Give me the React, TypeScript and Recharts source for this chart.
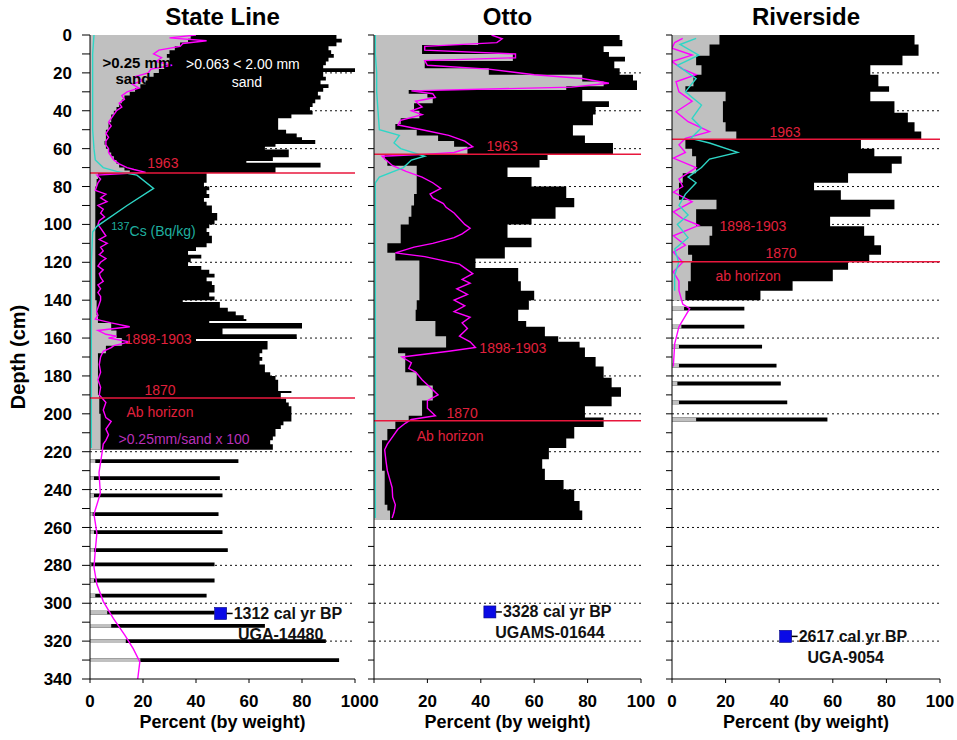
import React from 'react';
import {
  ComposedChart,
  Area,
  Line,
  Scatter,
  XAxis,
  YAxis,
  CartesianGrid,
  ReferenceLine,
  ReferenceDot,
} from 'recharts';

// [depth cm, percent]
type Pair = [number, number];
// [top cm, bottom cm, percent] for discrete samples
type Sample = [number, number, number];

const FONT = 'Arial, "Liberation Sans", Helvetica, sans-serif';

const depthTicks = [0, 10, 20, 30, 40, 50, 60, 70, 80, 90, 100, 110, 120, 130, 140, 150, 160, 170, 180, 190, 200, 210, 220, 230, 240, 250, 260, 270, 280, 290, 300, 310, 320, 330, 340];
const gridDepths = [20, 40, 60, 80, 100, 120, 140, 160, 180, 200, 220, 240, 260, 280, 300, 320];
const percentTicks = [0, 20, 40, 60, 80, 100];

// ---------- State Line ----------
const slFine: Pair[] = [
  [0, 93], [2, 95], [4, 93], [6, 90], [8, 91], [10, 92], [12, 90], [14, 89], [16, 88], [17.5, 100],
  [19.5, 88], [22, 89], [24, 87], [26, 90], [28, 88], [30, 86], [32, 87], [34, 85], [36, 84], [38, 83],
  [40, 84], [42, 76], [44, 71], [46, 71], [48, 71], [50, 74], [52, 78], [54, 80], [55.5, 85], [57.5, 70],
  [59, 66], [60.5, 75], [63, 75], [64.5, 69], [66.5, 59], [67.5, 87], [70, 70], [72.9, 44], [76, 44], [78, 43],
  [80, 45], [82, 44], [84, 45], [86, 43], [88, 44], [90, 46], [92, 46], [94, 48], [96, 48], [98, 47],
  [100, 45], [102, 44], [104, 45], [106, 46], [108, 46], [110, 44], [112, 40], [114, 37], [116, 42], [118, 38],
  [120, 37], [122, 42], [124, 45], [126, 47], [128, 44], [130, 46], [132, 47], [134, 47], [136, 45], [138, 47],
  [140, 35], [141, 49], [144, 52], [146, 55], [148, 58], [150, 59], [151, 45], [152, 80], [155, 50], [158, 78],
  [160.5, 40], [161.5, 67], [164, 67], [166, 65], [168, 64], [170, 65], [172, 64], [174, 66], [176, 66], [178, 68],
  [180, 70], [182, 71], [184, 71], [186, 71], [188, 76], [189, 72], [192, 74], [194, 75], [196, 76], [198, 76],
  [200, 76], [202, 76], [204, 73], [206, 72], [208, 70], [210, 70], [212, 69], [214, 68], [216, 69], [219, 69],
];
const slFineSamples: Sample[] = [
  [224, 226, 56], [233, 235, 49], [242, 244, 50], [252, 254, 48.5], [261.5, 263.5, 50], [271, 273, 52],
  [278.5, 280.5, 47], [287, 289, 47], [295, 297, 44], [304, 306, 47], [311, 313, 66], [319, 321, 89], [329, 331, 94],
];
const slCoarse: Pair[] = [
  [0, 38], [2, 37], [4, 34], [6, 32], [8, 30], [10, 29], [12, 30], [14, 30], [16, 28], [18, 26],
  [20, 24], [22, 22], [24, 21], [26, 19], [28, 17], [30, 15], [32, 13], [34, 12], [36, 11], [38, 10],
  [40, 9], [42, 8], [44, 8], [46, 7], [48, 7], [50, 6], [52, 6], [54, 6], [56, 5.5], [58, 6],
  [60, 7], [62, 8], [64, 9], [66, 10], [68, 11], [70, 13], [71.5, 15], [72.9, 3], [76, 2.5], [80, 2],
  [90, 2], [100, 2], [110, 2], [120, 2], [130, 2], [140, 2.5], [148, 3], [152, 8], [156, 10], [160, 12],
  [164, 6], [168, 3], [180, 3], [190, 3.5], [200, 4], [210, 4], [219, 4],
];
const slCoarseSamples: Sample[] = [
  [224, 226, 2], [233, 235, 1.5], [242, 244, 1.5], [252, 254, 1], [261.5, 263.5, 1.5], [271, 273, 1.5],
  [278.5, 280.5, 0.5], [287, 289, 1.5], [295, 297, 2], [304, 306, 6.5], [311, 313, 8], [319, 321, 13.5], [329, 331, 19],
];
const slCoarseX100: Pair[] = [
  [0, 40], [1.5, 30], [3, 44], [4.5, 35], [6, 34], [8, 26], [10, 24], [12, 27], [14, 25], [16, 31],
  [18, 23], [20, 22], [22, 17], [24, 20], [26, 16], [28, 18.5], [30, 14], [32, 12], [34, 13], [36, 11],
  [38, 12], [40, 10], [42, 9], [44, 8], [46, 7], [48, 8], [50, 7], [52, 6], [54, 7], [56, 6],
  [58, 6], [60, 7], [62, 7], [64, 8], [66, 9], [68, 11], [70, 14], [71, 16.6], [72.5, 21], [74, 2.6],
  [76, 4], [78, 3], [80, 2.5], [82, 2], [84, 6], [86, 4], [88, 6.4], [90, 3], [92, 5], [94, 4],
  [96, 5.5], [98, 3.5], [100, 3], [102, 4], [104, 5], [106, 6], [108, 3.5], [110, 6.5], [112, 4], [114, 5],
  [116, 3.5], [118, 6], [120, 4], [122, 3], [124, 5], [126, 3.5], [128, 4], [130, 5], [132, 3], [134, 4],
  [136, 3], [138, 4], [140, 4], [142, 3.5], [144, 3], [146, 2.5], [148, 3], [150, 2], [152, 8], [154, 15],
  [156, 3], [158, 6], [159, 10], [160, 7], [162, 15], [164, 9], [165, 8], [167, 5], [170, 4], [174, 3.5],
  [178, 4], [182, 3], [186, 4], [190, 3.5], [194, 6], [198, 5], [202, 6], [204, 8], [208, 6], [211, 7],
  [214, 6], [216, 5], [221, 4.5], [231, 3.4], [242, 3.9], [253, 1.5], [263, 2.6], [272, 2], [281, 1.5], [290, 2.6],
  [299, 5], [308, 8.8], [317, 13.2], [324, 16.3], [331, 18.8], [340, 18],
];
const slCs137: Pair[] = [
  [0, 1.5], [10, 1], [20, 1], [30, 1], [40, 1], [50, 1], [60, 1.5], [66, 2], [70, 5], [72, 10],
  [74, 17.7], [81, 24], [90, 14], [101, 2.6], [104, 1], [120, 0.5], [140, 0.5], [160, 0.5], [180, 0.5], [200, 0.5], [218, 0.5],
];
const slHorizons = [72.9, 191.7];
const slDates = [{ x: 49.3, depth: 305.4, age: '1312 cal yr BP', lab: 'UGA-14480' }];

// ---------- Otto ----------
const ottoFine: Pair[] = [
  [0, 92], [2.6, 93], [6, 86], [9, 88], [11.5, 94], [14, 90], [17.6, 92], [21, 97], [24, 98.5], [29, 78],
  [35, 88], [38, 83], [42, 82], [47.6, 74.5], [53, 79], [57, 89.5], [63, 65], [66, 62], [70, 50], [75, 59],
  [80, 72], [86, 75], [91, 68], [97, 59], [100, 50], [107, 59], [112, 49], [118, 38], [123, 54], [130, 55],
  [135, 60], [140, 58], [145, 54], [151, 57], [154, 64], [159, 69], [162, 77], [165, 79], [170, 83], [175, 86],
  [181, 89], [186, 92.5], [191, 89], [196, 79], [202, 86], [207, 75], [213, 72], [218, 65.5], [224, 63], [229, 64],
  [235, 71], [240, 75], [246, 77], [251, 78], [256, 78],
];
const ottoCoarse: Pair[] = [
  [0, 39], [5.3, 18], [10, 52], [13.7, 19], [17.6, 43], [21, 78], [24.6, 86], [27, 72], [29, 13], [31, 20],
  [33, 22], [36, 15], [40, 17], [44, 10], [47, 8], [50, 16], [53, 24], [56, 30], [59, 35], [63, 4],
  [66, 5], [69, 16], [76, 16], [84, 15], [90, 14], [96, 13], [100, 10], [105, 10], [110, 5], [115, 8],
  [119, 17], [130, 17], [140, 16], [145, 15.6], [151, 23], [159, 27], [165, 9], [168, 11.7], [178, 16], [185, 22],
  [193, 18], [201, 13], [204, 8], [208, 5], [214, 3], [230, 4], [248, 5], [251, 6], [256, 6],
];
const ottoCoarseX100: Pair[] = [
  [0, 44], [2, 48], [4, 46], [6, 19], [8, 19], [10, 53], [12, 53], [13.5, 19], [16, 20], [18, 43],
  [21, 60], [23, 78], [25.5, 88], [27.5, 74], [29.5, 14], [31, 22], [33, 23], [35, 15.6], [38, 18], [40, 14],
  [42, 18], [45, 10], [47.5, 9], [50, 18], [53, 28], [56, 34], [59, 37], [62, 30], [63, 19], [64, 3],
  [66, 4.5], [69, 7], [72, 12], [75, 18], [78, 22], [81, 25], [84, 21], [86, 22], [89, 26], [91, 27],
  [94, 30], [97, 32], [100, 34], [102, 36], [105, 33], [107, 30], [110, 22], [112, 15], [115, 8], [117, 19],
  [121, 32], [124, 35], [126, 37], [129, 33], [131, 36], [134, 31], [137, 35], [140, 30], [143, 34], [146, 30],
  [149, 36], [152, 33], [155, 35], [159, 32], [162, 36], [165, 38], [167, 28], [170, 10.5], [173, 14], [176, 13],
  [178, 15.6], [182, 18], [186, 21], [190, 24], [193, 20], [197, 20], [201, 23], [203, 14], [205, 11.7], [208, 9],
  [212, 7], [216, 5], [219, 4], [225, 4.5], [230, 5], [235, 6], [239, 6.8], [244, 7], [248, 8], [252, 7.5], [255, 6.8],
];
const ottoCs137: Pair[] = [
  [0, 0.5], [10, 0.5], [20, 1], [30, 1], [40, 1.5], [50, 2], [53, 9.5], [57, 7.5], [60, 10], [64, 19],
  [66, 14], [70, 11], [75, 2], [78, 0.5], [100, 0.5], [130, 0.5], [160, 0.5], [190, 0.5], [220, 0.5], [255, 0.5],
];
const ottoHorizons = [63, 203.6];
const ottoDates = [{ x: 43.4, depth: 304.6, age: '3328 cal yr BP', lab: 'UGAMS-01644' }];

// ---------- Riverside ----------
const rivFine: Pair[] = [
  [0, 90.5], [5, 92], [11, 86], [16, 74], [21, 77], [27, 81], [30, 74], [35, 83], [41, 88], [46, 90.5],
  [51, 93], [55.1, 70.5], [60, 75.5], [64, 85.7], [68, 82], [73, 65.7], [78, 53], [82, 63], [87, 83], [92, 74],
  [96, 59], [101, 71.7], [106, 75.5], [111, 78], [116, 73.6], [119.7, 65.7], [124, 60], [130, 45], [135, 33], [140, 33],
];
const rivFineSamples: Sample[] = [
  [143.5, 145.5, 27], [153, 155, 27], [163.5, 165.5, 33.6], [173.5, 175.5, 39], [183, 185, 40.6], [193, 195, 43], [202, 204, 58],
];
const rivCoarse: Pair[] = [
  [0, 17.7], [5, 14], [11, 9], [16, 11], [21, 8], [27, 5], [30, 20], [35, 19], [41, 19], [46, 20],
  [51, 24], [55.1, 5], [60, 7.5], [64, 9], [68, 9], [73, 4], [78, 2.6], [82, 2.6], [87, 16.6], [92, 9],
  [96, 9], [101, 15], [106, 14], [111, 6], [116, 7.5], [120, 7], [124, 7], [130, 6], [135, 5], [140, 5],
];
const rivCoarseSamples: Sample[] = [
  [143.5, 145.5, 4.5], [153, 155, 3.5], [163.5, 165.5, 2.6], [173.5, 175.5, 2.6], [183, 185, 2], [193, 195, 2.6], [202, 204, 9],
];
const rivCoarseX100: Pair[] = [
  [1.8, 4], [4, 1], [7, 0], [10.6, 7.5], [14, 0], [18, 4], [21, 9], [24.7, 1.5], [30, 2.6], [35, 7.5],
  [40.5, 1.5], [45.8, 6], [51, 14], [54.6, 5], [58, 2.6], [62, 5], [65, 0.5], [70, 9], [76, 2.6], [80, 4],
  [83, 0.5], [88, 7.5], [93.4, 0.5], [97, 4], [100.5, 10], [106, 0.5], [111, 5], [114.6, 0.5], [120, 4], [125, 0.5],
  [130, 2.6], [135, 2.6], [142, 4], [144.5, 6.6], [154, 2.6], [163, 1], [175, 0.5],
];
const rivCs137: Pair[] = [
  [1.8, 9], [5, 3], [10.6, 10], [16, 2], [23, 9], [30, 5], [37, 11], [44, 7.5], [49, 11], [54.6, 7],
  [57, 14], [62, 24.5], [65.5, 14], [70, 11], [75, 6], [78, 9], [84, 5], [90, 2.6], [95, 6], [100, 2],
  [107, 6], [113, 1], [120, 2.5], [127, 1], [135, 1],
];
const rivHorizons = [55.1, 119.7];
const rivDates = [{ x: 42.4, depth: 317.5, age: '2617 cal yr BP', lab: 'UGA-9054' }];

type NoteKind = 'red' | 'cs' | 'mag' | 'key' | 'keyWhite';
interface Note { kind: NoteKind; text: string; x: number; depth: number }

const slNotes: Note[] = [
  { kind: 'key', text: '>0.25 mm', x: 17.7, depth: 14.3 },
  { kind: 'key', text: 'sand', x: 16.2, depth: 23.2 },
  { kind: 'keyWhite', text: '>0.063 < 2.00 mm', x: 57.7, depth: 15.3 },
  { kind: 'keyWhite', text: 'sand', x: 59.2, depth: 24.8 },
  { kind: 'red', text: '1963', x: 27.5, depth: 67.6 },
  { kind: 'cs', text: 'Cs (Bq/kg)', x: 8, depth: 103.5 },
  { kind: 'red', text: '1898-1903', x: 25.7, depth: 160.5 },
  { kind: 'red', text: '1870', x: 26.4, depth: 187.4 },
  { kind: 'red', text: 'Ab horizon', x: 26.4, depth: 199 },
  { kind: 'mag', text: '>0.25mm/sand x 100', x: 35.5, depth: 213.3 },
];
const ottoNotes: Note[] = [
  { kind: 'red', text: '1963', x: 48, depth: 58.6 },
  { kind: 'red', text: '1898-1903', x: 52, depth: 165.3 },
  { kind: 'red', text: '1870', x: 33, depth: 199.6 },
  { kind: 'red', text: 'Ab horizon', x: 28.5, depth: 211.7 },
];
const rivNotes: Note[] = [
  { kind: 'red', text: '1963', x: 42.2, depth: 51.2 },
  { kind: 'red', text: '1898-1903', x: 30.2, depth: 100.8 },
  { kind: 'red', text: '1870', x: 40.7, depth: 115 },
  { kind: 'red', text: 'ab horizon', x: 28.4, depth: 127.2 },
];

const noteStyles: Record<NoteKind, { fill: string; size: number; weight: string }> = {
  red: { fill: '#e0203c', size: 14, weight: 'normal' },
  cs: { fill: '#1fae9f', size: 14, weight: 'normal' },
  mag: { fill: '#b830b8', size: 14, weight: 'normal' },
  key: { fill: '#000', size: 15, weight: 'bold' },
  keyWhite: { fill: '#fff', size: 14, weight: 'normal' },
};

const toRows = (pairs: Pair[]) => pairs.map(([depth, v]) => ({ depth, v }));
const toBlocks = (samples: Sample[]) =>
  samples.flatMap(([top, bottom, v]) => [
    { depth: top, v: v as number | null },
    { depth: bottom, v: v as number | null },
    { depth: bottom, v: null as number | null },
  ]);

function NoteMark({ cx, cy, note }: { cx: number; cy: number; note: Note }) {
  const s = noteStyles[note.kind];
  if (note.kind === 'cs') {
    return (
      <text x={cx} y={cy} fill={s.fill} fontSize={s.size} fontFamily={FONT} textAnchor="start" dominantBaseline="central">
        <tspan fontSize={11} dy={-5}>137</tspan>
        <tspan dy={5}>{note.text}</tspan>
      </text>
    );
  }
  return (
    <text x={cx} y={cy} fill={s.fill} fontSize={s.size} fontWeight={s.weight} fontFamily={FONT} textAnchor="middle" dominantBaseline="central">
      {note.text}
    </text>
  );
}

function DateMark(props: any) {
  const { cx, cy } = props;
  const p = props.payload ?? props;
  if (cx == null || cy == null) return null;
  return (
    <g>
      <rect x={cx - 6} y={cy - 6} width={12} height={12} fill="#0a0ae6" stroke="#000080" strokeWidth={0.6} />
      <line x1={cx + 6} y1={cy} x2={cx + 12} y2={cy} stroke="#000" strokeWidth={1.5} />
      <text x={cx + 13} y={cy} fontSize={16} fontWeight="bold" fontFamily={FONT} fill="#111" dominantBaseline="central">
        {p.age}
      </text>
      <text x={cx + 60} y={cy + 21} fontSize={16} fontWeight="bold" fontFamily={FONT} fill="#111" textAnchor="middle" dominantBaseline="central">
        {p.lab}
      </text>
    </g>
  );
}

interface PanelConfig {
  title: string;
  left: number;
  axisWidth: number;
  plotWidth: number;
  marginRight: number;
  showDepth: boolean;
  fine: Pair[];
  fineSamples: Sample[];
  coarse: Pair[];
  coarseSamples: Sample[];
  coarseX100: Pair[];
  cs: Pair[];
  horizons: number[];
  dates: { x: number; depth: number; age: string; lab: string }[];
  notes: Note[];
}

const panels: PanelConfig[] = [
  {
    title: 'State Line', left: 0, axisWidth: 90, plotWidth: 265, marginRight: 20, showDepth: true,
    fine: slFine, fineSamples: slFineSamples, coarse: slCoarse, coarseSamples: slCoarseSamples,
    coarseX100: slCoarseX100, cs: slCs137, horizons: slHorizons, dates: slDates, notes: slNotes,
  },
  {
    title: 'Otto', left: 361, axisWidth: 13, plotWidth: 267, marginRight: 20, showDepth: false,
    fine: ottoFine, fineSamples: [], coarse: ottoCoarse, coarseSamples: [],
    coarseX100: ottoCoarseX100, cs: ottoCs137, horizons: ottoHorizons, dates: ottoDates, notes: ottoNotes,
  },
  {
    title: 'Riverside', left: 659, axisWidth: 13, plotWidth: 268, marginRight: 17, showDepth: false,
    fine: rivFine, fineSamples: rivFineSamples, coarse: rivCoarse, coarseSamples: rivCoarseSamples,
    coarseX100: rivCoarseX100, cs: rivCs137, horizons: rivHorizons, dates: rivDates, notes: rivNotes,
  },
];

const H = 740;
const tickStyle = { fill: '#000', fontSize: 17, fontWeight: 'bold', fontFamily: FONT };

function CorePanel({ cfg }: { cfg: PanelConfig }) {
  const width = cfg.axisWidth + cfg.plotWidth + cfg.marginRight;
  return (
    <div style={{ position: 'absolute', left: cfg.left, top: 0, width, height: H }}>
      <div
        style={{
          position: 'absolute', left: cfg.axisWidth, width: cfg.plotWidth, top: 3,
          textAlign: 'center', font: `bold 24px ${FONT}`, color: '#000',
        }}
      >
        {cfg.title}
      </div>
      <ComposedChart
        layout="vertical"
        width={width}
        height={H}
        margin={{ top: 35, right: cfg.marginRight, bottom: 0, left: 0 }}
      >
        <CartesianGrid horizontal vertical={false} horizontalValues={gridDepths} stroke="#111" strokeDasharray="2 3" />
        <XAxis
          type="number"
          domain={[0, 100]}
          ticks={percentTicks}
          interval={0}
          allowDataOverflow
          height={61}
          tickSize={4}
          tickMargin={12}
          axisLine={{ stroke: '#000' }}
          tickLine={{ stroke: '#000' }}
          tick={tickStyle}
          label={{
            value: 'Percent (by weight)', position: 'insideBottom', offset: 12,
            style: { fontSize: 18, fontWeight: 'bold', fill: '#000', fontFamily: FONT },
          }}
        />
        <XAxis xAxisId="top" orientation="top" type="number" domain={[0, 100]} height={0} tick={false} tickLine={false} axisLine={{ stroke: '#000' }} />
        <YAxis
          type="number"
          dataKey="depth"
          domain={[0, 340]}
          allowDataOverflow
          ticks={depthTicks}
          interval={0}
          width={cfg.axisWidth}
          tickSize={cfg.showDepth ? 8 : 6}
          tickMargin={10}
          axisLine={{ stroke: '#000' }}
          tickLine={{ stroke: '#000' }}
          tick={tickStyle}
          tickFormatter={(v: number) => (cfg.showDepth && v % 20 === 0 ? String(v) : '')}
          label={
            cfg.showDepth
              ? {
                  value: 'Depth (cm)', angle: -90, position: 'insideLeft', offset: 18,
                  style: { textAnchor: 'middle', fontSize: 20, fontWeight: 'bold', fill: '#000', fontFamily: FONT },
                }
              : undefined
          }
        />
        <YAxis yAxisId="right" orientation="right" type="number" domain={[0, 340]} width={0} tick={false} tickLine={false} axisLine={{ stroke: '#000' }} />

        <Area data={toRows(cfg.fine)} dataKey="v" type="stepBefore" stroke="none" fill="#000" fillOpacity={1} connectNulls isAnimationActive={false} />
        {cfg.fineSamples.length > 0 && (
          <Area data={toBlocks(cfg.fineSamples)} dataKey="v" type="stepBefore" stroke="none" fill="#000" fillOpacity={1} isAnimationActive={false} />
        )}
        <Area data={toRows(cfg.coarse)} dataKey="v" type="stepBefore" stroke="none" fill="#c0c0c0" fillOpacity={1} connectNulls isAnimationActive={false} />
        {cfg.coarseSamples.length > 0 && (
          <Area data={toBlocks(cfg.coarseSamples)} dataKey="v" type="stepBefore" stroke="none" fill="#c0c0c0" fillOpacity={1} isAnimationActive={false} />
        )}
        <Line data={toRows(cfg.coarseX100)} dataKey="v" type="linear" stroke="#ff00ff" strokeWidth={1.4} dot={false} connectNulls isAnimationActive={false} />
        <Line data={toRows(cfg.cs)} dataKey="v" type="linear" stroke="#2ed6c6" strokeWidth={1.4} dot={false} connectNulls isAnimationActive={false} />

        {cfg.horizons.map((d) => (
          <ReferenceLine key={d} y={d} stroke="#e8173c" strokeWidth={1.5} />
        ))}
        {cfg.notes.map((n) => (
          <ReferenceDot
            key={`${n.text}-${n.depth}`}
            x={n.x}
            y={n.depth}
            r={0}
            shape={(sp: any) => <NoteMark cx={sp.cx} cy={sp.cy} note={n} />}
          />
        ))}
        <Scatter data={cfg.dates} dataKey="x" shape={DateMark} isAnimationActive={false} />
      </ComposedChart>
    </div>
  );
}

export default function App() {
  return (
    <div style={{ position: 'absolute', left: 0, top: 0, width: 957, height: H, background: '#fff', fontFamily: FONT }}>
      {panels.map((cfg) => (
        <CorePanel key={cfg.title} cfg={cfg} />
      ))}
    </div>
  );
}
